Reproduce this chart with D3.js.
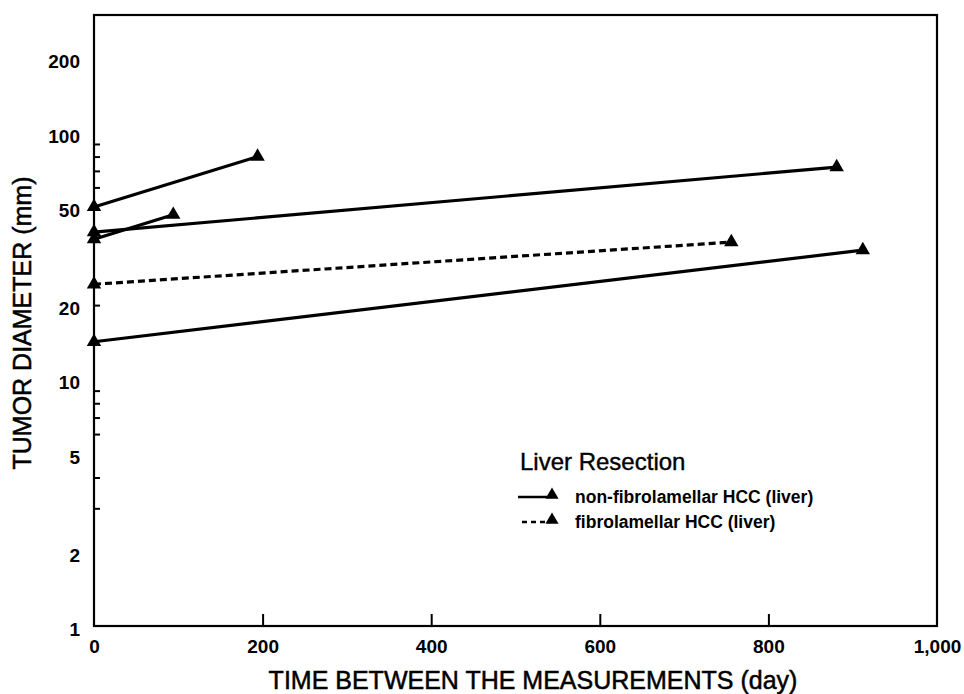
<!DOCTYPE html>
<html><head><meta charset="utf-8">
<script src="https://cdn.jsdelivr.net/npm/d3@7"></script>
<style>
html,body{margin:0;padding:0;background:#fff;}
svg{display:block;font-family:"Liberation Sans",Arial,Helvetica,sans-serif;}
</style></head>
<body>
<svg id="chart" width="964" height="694"></svg>
<script>
// ---- data (days, diameter mm) ----
const nonFibroPatient1 = [[0, 50], [194, 80]];
const nonFibroPatient2 = [[0, 37], [94, 46.5]];
const nonFibroPatient3 = [[0, 39.5], [881, 72.5]];
const nonFibroPatient4 = [[0, 14.2], [912, 33.4]];
const fibroPatient1 = [[0, 24.3], [756, 36]];
const xTickValues = [0, 200, 400, 600, 800, 1000];
const xTickLabels = ["0", "200", "400", "600", "800", "1,000"];
const yLabelValues = [1, 2, 5, 10, 20, 50, 100, 200];
const yMinorTicks = [3, 4, 6, 7, 8, 9, 20, 60, 70, 80, 90];
const legendLabels = ["non-fibrolamellar HCC (liver)", "fibrolamellar HCC (liver)"];

const series = [
  {pts: nonFibroPatient1, dashed: false},
  {pts: nonFibroPatient2, dashed: false},
  {pts: nonFibroPatient3, dashed: false},
  {pts: nonFibroPatient4, dashed: false},
  {pts: fibroPatient1, dashed: true}
];

const svg = d3.select("#chart");
const L = 94, R = 937, T = 15, B = 626;
const x = d3.scaleLinear().domain([0, 1000]).range([L, R]);
const y = d3.scaleLog().domain([1, 300]).range([B, T]);

// frame
svg.append("rect").attr("x", L).attr("y", T).attr("width", R - L).attr("height", B - T)
  .attr("fill", "none").attr("stroke", "#000").attr("stroke-width", 2.2);

// x axis ticks (inward) and labels
const xAx = svg.append("g").attr("transform", `translate(0,${B})`)
  .call(d3.axisTop(x).tickValues(xTickValues.slice(1, 5)).tickSize(12).tickFormat(""));
xAx.select(".domain").remove();
xAx.selectAll("line").attr("stroke", "#000").attr("stroke-width", 2);

const xLab = svg.append("g").attr("transform", `translate(0,${B})`)
  .call(d3.axisBottom(x).tickValues(xTickValues).tickSize(0).tickPadding(14)
    .tickFormat((d, i) => xTickLabels[i]));
xLab.select(".domain").remove();
xLab.selectAll("text").attr("font-size", 19).attr("font-weight", "bold")
  .attr("font-family", "Liberation Sans, Arial, sans-serif").attr("fill", "#000");

// y minor ticks (inward)
const yAx = svg.append("g").attr("transform", `translate(${L},0)`)
  .call(d3.axisRight(y).tickValues(yMinorTicks).tickSize(6).tickFormat(""));
yAx.select(".domain").remove();
yAx.selectAll("line").attr("stroke", "#000").attr("stroke-width", 2);

// y labels
const yLab = svg.append("g").attr("transform", `translate(${L},0)`)
  .call(d3.axisLeft(y).tickValues(yLabelValues).tickSize(0).tickPadding(14)
    .tickFormat(d3.format("d")));
yLab.select(".domain").remove();
yLab.selectAll("text").attr("font-size", 19).attr("font-weight", "bold")
  .attr("font-family", "Liberation Sans, Arial, sans-serif").attr("fill", "#000")
  .attr("dy", "0.5em");

// axis titles
svg.append("text").attr("x", 533).attr("y", 689).attr("text-anchor", "middle")
  .attr("font-size", 25).attr("fill", "#000").attr("stroke", "#000").attr("stroke-width", 0.5)
  .text("TIME BETWEEN THE MEASUREMENTS (day)");
svg.append("text").attr("transform", `translate(31,${323}) rotate(-90)`)
  .attr("text-anchor", "middle").attr("font-size", 25).attr("fill", "#000")
  .attr("stroke", "#000").attr("stroke-width", 0.5)
  .text("TUMOR DIAMETER (mm)");

// data lines
const line = d3.line().x(d => x(d[0])).y(d => y(d[1]));
const tri = d3.symbol().type(d3.symbolTriangle).size(90);
series.forEach(s => {
  svg.append("path").attr("d", line(s.pts)).attr("fill", "none").attr("stroke", "#000")
    .attr("stroke-width", 3.2).attr("stroke-dasharray", s.dashed ? "7,4" : null);
  svg.selectAll(null).data(s.pts).enter().append("path")
    .attr("d", tri).attr("transform", d => `translate(${x(d[0])},${y(d[1])})`)
    .attr("fill", "#000");
});

// legend
const lg = svg.append("g");
lg.append("text").attr("x", 520).attr("y", 470).attr("font-size", 24).attr("fill", "#000")
  .attr("stroke", "#000").attr("stroke-width", 0.4)
  .text("Liver Resection");
const legLegend = d3.symbol().type(d3.symbolTriangle).size(75);
legendLabels.forEach((lab, i) => {
  const cy = 497 + i * 25;
  lg.append("line").attr("x1", i === 1 ? 522 : 518).attr("x2", 550).attr("y1", cy).attr("y2", cy)
    .attr("stroke", "#000").attr("stroke-width", 2.5)
    .attr("stroke-dasharray", i === 1 ? "5,4" : null);
  lg.append("path").attr("d", legLegend).attr("transform", `translate(552,${cy - 2})`).attr("fill", "#000");
  lg.append("text").attr("x", 575).attr("y", cy + 6).attr("font-size", 17.5)
    .attr("font-weight", "bold").attr("fill", "#000").text(lab);
});
</script>
</body></html>
